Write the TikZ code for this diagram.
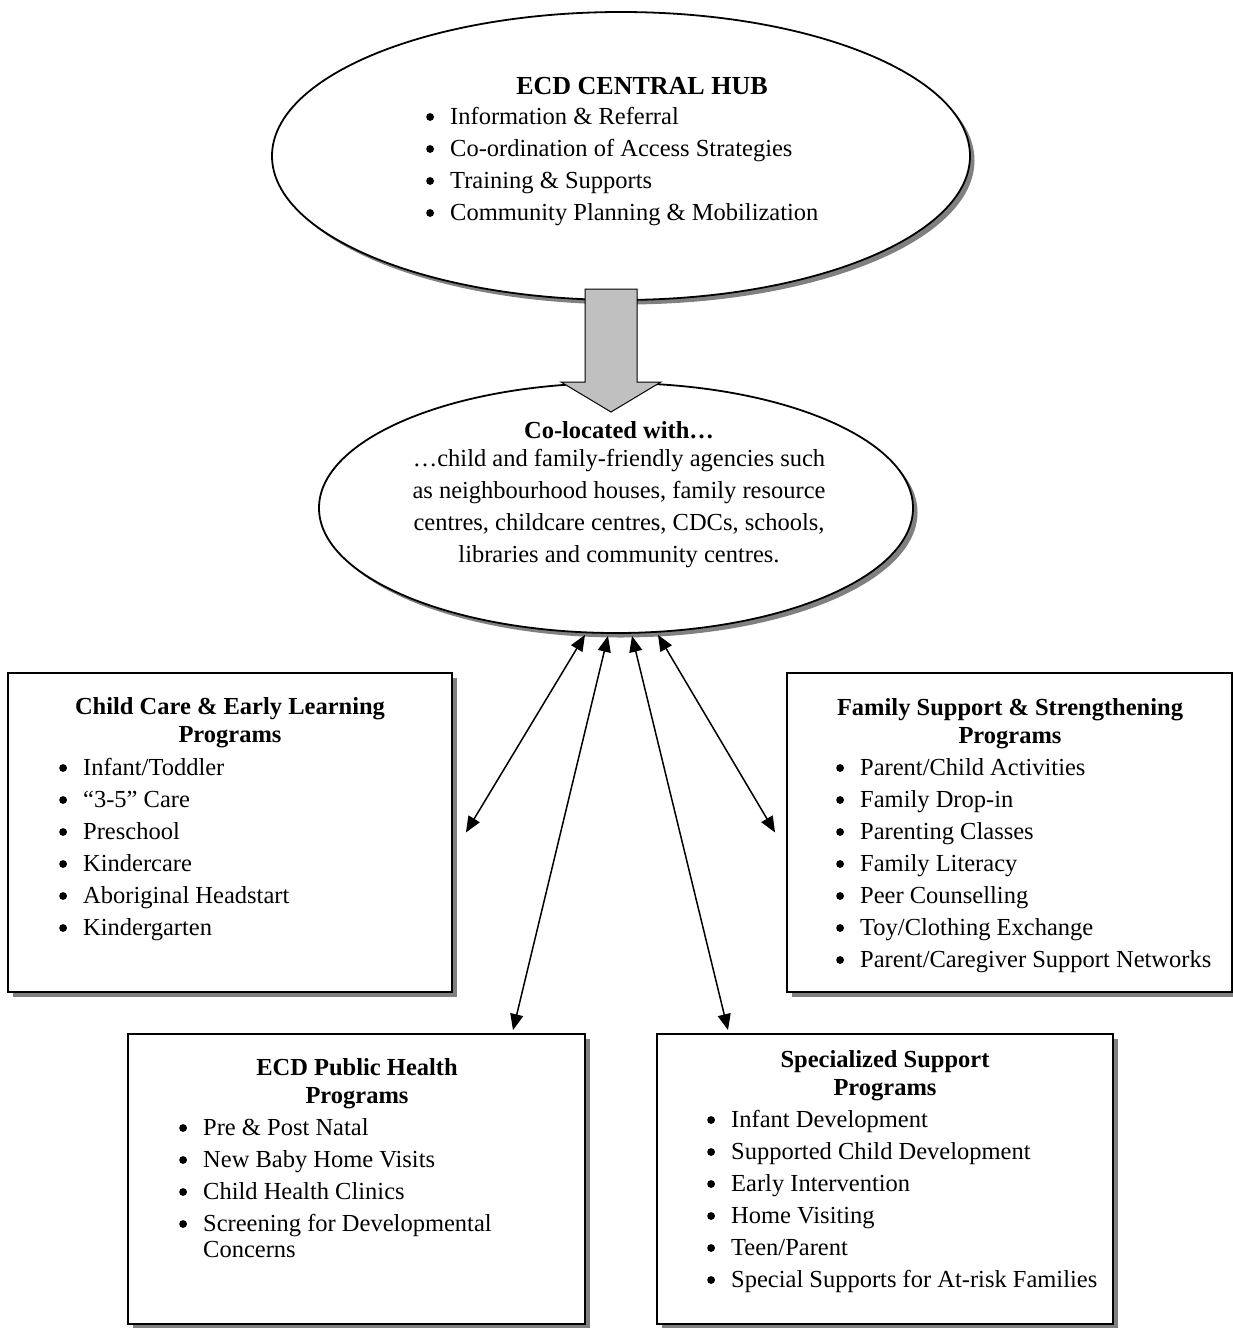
\documentclass[tikz,border=0pt]{standalone}
\usepackage{fontspec}
\setmainfont{Liberation Serif}
\usetikzlibrary{arrows.meta,shapes.geometric,shadows}
\definecolor{shadowgray}{RGB}{128,128,128}
\definecolor{arrowgray}{RGB}{192,192,192}
\newcommand\bul{\makebox[24pt][l]{\tikz[baseline=-7pt]\fill[black] (0pt,0pt) circle (3.9pt);}}
\newcommand\blist[1]{\begin{tabular}[t]{@{}l@{}}#1\end{tabular}}
\newcommand\ctitle[1]{\begin{tabular}[t]{@{}c@{}}#1\end{tabular}}
\tikzset{
  shad/.style={drop shadow={shadow xshift=4.5pt,shadow yshift=-4.5pt,fill=shadowgray,opacity=1}},
  oval/.style={ellipse,draw=black,line width=1.8pt,fill=white,inner sep=0pt,shad},
  progbox/.style={rectangle,draw=black,line width=1.8pt,fill=white,inner sep=0pt,shad},
  listtext/.style={anchor=base west,inner sep=0pt,font=\fontsize{24.5}{32}\selectfont},
  titletext/.style={anchor=base,inner sep=0pt,font=\fontsize{24.5}{28}\selectfont\bfseries},
  conn/.style={line width=1.5pt,{Triangle[length=16pt,width=13pt]}-{Triangle[length=16pt,width=13pt]}},
  bigarrow/.style={fill=arrowgray,draw=black,line width=1pt}
}
\begin{document}
\begin{tikzpicture}[x=1pt,y=-1pt]
\useasboundingbox (0,0) rectangle (1233,1328);
% ellipses
\node[oval,minimum width=698pt,minimum height=288pt] (hub) at (621,156) {};
\node[oval,minimum width=594pt,minimum height=250pt] (colo) at (616,508) {};
% big gray arrow
\draw[bigarrow] (585,289) -- (637,289) -- (637,382) -- (661,382) -- (611,412) -- (561,382) -- (585,382) -- cycle;
% hub text
\node[anchor=base,inner sep=0pt,font=\fontsize{26}{30}\selectfont\bfseries] (hubtitle) at (642,94) {ECD CENTRAL HUB};
\node[listtext] (hublist) at (426,124) {\blist{\bul Information \& Referral\\
\bul Co-ordination of Access Strategies\\
\bul Training \& Supports\\
\bul Community Planning \& Mobilization}};
% colocated text
\node[anchor=base,inner sep=0pt,font=\fontsize{24.5}{32}\selectfont] (colotext) at (619,438) {\ctitle{\textbf{Co-located with…}\\[-4pt]
…child and family-friendly agencies such\\
as neighbourhood houses, family resource\\
centres, childcare centres, CDCs, schools,\\
libraries and community centres.}};
% boxes
\node[progbox,minimum width=444pt,minimum height=319pt] (cc) at (230,832.5) {};
\node[progbox,minimum width=445pt,minimum height=319pt] (fs) at (1009.5,832.5) {};
\node[progbox,minimum width=457pt,minimum height=290pt] (ph) at (356.5,1179) {};
\node[progbox,minimum width=456pt,minimum height=290pt] (ss) at (885,1179) {};
% box texts
\node[titletext] (cctitle) at (230,714) {\ctitle{Child Care \& Early Learning\\Programs}};
\node[listtext] (cclist) at (59,775) {\blist{\bul Infant/Toddler\\
\bul “3-5” Care\\
\bul Preschool\\
\bul Kindercare\\
\bul Aboriginal Headstart\\
\bul Kindergarten}};
\node[titletext] (fstitle) at (1010,715) {\ctitle{Family Support \& Strengthening\\Programs}};
\node[listtext] (fslist) at (836,775) {\blist{\bul Parent/Child Activities\\
\bul Family Drop-in\\
\bul Parenting Classes\\
\bul Family Literacy\\
\bul Peer Counselling\\
\bul Toy/Clothing Exchange\\
\bul Parent/Caregiver Support Networks}};
\node[titletext] (phtitle) at (357,1075) {\ctitle{ECD Public Health\\Programs}};
\node[listtext] (phlist) at (179,1135) {\blist{\bul Pre \& Post Natal\\
\bul New Baby Home Visits\\
\bul Child Health Clinics\\
\bul Screening for Developmental\\[-6pt]
\hspace*{24pt}Concerns}};
\node[titletext] (sstitle) at (885,1067) {\ctitle{Specialized Support\\Programs}};
\node[listtext] (sslist) at (707,1127) {\blist{\bul Infant Development\\
\bul Supported Child Development\\
\bul Early Intervention\\
\bul Home Visiting\\
\bul Teen/Parent\\
\bul Special Supports for At-risk Families}};
% connector ends
\coordinate (t1) at ([xshift=-31pt,yshift=-1pt]colo.south);
\coordinate (t2) at ([xshift=-8pt,yshift=-2pt]colo.south);
\coordinate (t3) at ([xshift=16pt,yshift=-2pt]colo.south);
\coordinate (t4) at ([xshift=42pt,yshift=-1pt]colo.south);
\coordinate (b1) at ([xshift=13pt]cc.east);
\coordinate (b2) at ([xshift=156.5pt,yshift=3pt]ph.north);
\coordinate (b3) at ([xshift=-157pt,yshift=3pt]ss.north);
\coordinate (b4) at ([xshift=-11pt]fs.west);
\draw[conn] (t1) -- (b1);
\draw[conn] (t2) -- (b2);
\draw[conn] (t3) -- (b3);
\draw[conn] (t4) -- (b4);
\end{tikzpicture}
\end{document}
